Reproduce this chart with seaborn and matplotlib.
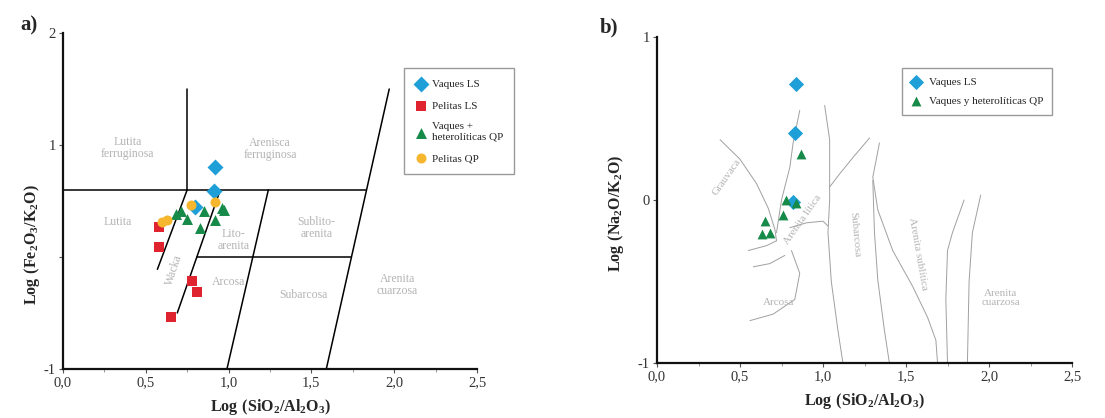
import numpy as np
import pandas as pd
import matplotlib
matplotlib.use("Agg")
import matplotlib.pyplot as plt
import seaborn as sns

# =====================================================
# Data - panel a (Herron diagram)
# =====================================================
vaques_ls_a_x = [0.92, 0.91, 0.80]
vaques_ls_a_y = [0.80, 0.59, 0.45]
pelitas_ls_x = [0.58, 0.58, 0.78, 0.81, 0.65]
pelitas_ls_y = [0.27, 0.09, -0.21, -0.31, -0.54]
vaques_qp_a_x = [0.68, 0.71, 0.75, 0.85, 0.83, 0.92, 0.96, 0.97]
vaques_qp_a_y = [0.38, 0.41, 0.34, 0.41, 0.26, 0.33, 0.44, 0.42]
pelitas_qp_x = [0.77, 0.92, 0.63, 0.60]
pelitas_qp_y = [0.46, 0.49, 0.33, 0.31]

labels_a = ["Vaques LS", "Pelitas LS", "Vaques +\nheterolíticas QP", "Pelitas QP"]

# field boundaries (x list, y list)
bounds_a = [
    ([0.0, 1.83], [0.6, 0.6]),
    ([0.75, 0.75], [0.6, 1.5]),
    ([0.75, 0.57], [0.6, -0.11]),
    ([0.95, 0.69], [0.6, -0.5]),
    ([1.24, 0.99], [0.6, -1.0]),
    ([0.81, 1.74], [0.0, 0.0]),
    ([1.59, 1.97], [-1.0, 1.5]),
]
fields_a = [
    ("Lutita\nferruginosa", 0.39, 0.97, 0),
    ("Arenisca\nferruginosa", 1.25, 0.96, 0),
    ("Lutita", 0.33, 0.31, 0),
    ("Lito-\narenita", 1.03, 0.15, 0),
    ("Sublito-\narenita", 1.53, 0.26, 0),
    ("Arcosa", 1.00, -0.22, 0),
    ("Subarcosa", 1.45, -0.34, 0),
    ("Arenita\ncuarzosa", 2.02, -0.25, 0),
    ("Wacka", 0.67, -0.12, 72),
]

# =====================================================
# Data - panel b (Pettijohn diagram)
# =====================================================
vaques_ls_b_x = [0.84, 0.83, 0.82]
vaques_ls_b_y = [0.71, 0.41, -0.01]
vaques_qp_b_x = [0.87, 0.78, 0.84, 0.76, 0.65, 0.63, 0.68]
vaques_qp_b_y = [0.28, 0.00, -0.02, -0.09, -0.13, -0.21, -0.20]

labels_b = ["Vaques LS", "Vaques y heterolíticas QP"]

curves_b = [
    ([0.38, 0.50, 0.60, 0.67, 0.71, 0.72], [0.37, 0.25, 0.10, -0.05, -0.18, -0.25]),
    ([0.86, 0.82, 0.80, 0.77, 0.75, 0.72], [0.55, 0.35, 0.20, 0.08, 0.0, -0.20]),
    ([0.72, 0.66, 0.55], [-0.25, -0.28, -0.31]),
    ([1.28, 1.18, 1.10, 1.04], [0.38, 0.26, 0.16, 0.08]),
    ([0.80, 0.90, 1.00, 1.03], [-0.17, -0.14, -0.13, -0.16]),
    ([1.01, 1.04, 1.04, 1.03, 1.05, 1.09, 1.12], [0.58, 0.37, 0.0, -0.2, -0.5, -0.8, -1.0]),
    ([0.81, 0.86, 0.83, 0.70, 0.56], [-0.31, -0.45, -0.61, -0.70, -0.74]),
    ([0.58, 0.68, 0.77], [-0.41, -0.39, -0.34]),
    ([1.34, 1.30, 1.33, 1.42, 1.54, 1.63, 1.68, 1.69], [0.35, 0.14, -0.06, -0.31, -0.53, -0.72, -0.86, -1.0]),
    ([1.30, 1.31, 1.33, 1.37, 1.40], [0.12, -0.2, -0.49, -0.8, -1.0]),
    ([1.85, 1.78, 1.75, 1.74, 1.75], [0.0, -0.2, -0.31, -0.61, -1.0]),
    ([1.95, 1.90, 1.88, 1.87], [0.03, -0.2, -0.5, -1.0]),
]
fields_b = [
    ("Grauvaca", 0.42, 0.14, 55),
    ("Arenita lítica", 0.88, -0.12, 55),
    ("Arcosa", 0.73, -0.63, 0),
    ("Subarcosa", 1.19, -0.21, -85),
    ("Arenita sublítica", 1.57, -0.33, -80),
    ("Arenita\ncuarzosa", 2.07, -0.60, 0),
]

xticks = [0.0, 0.5, 1.0, 1.5, 2.0, 2.5]
xticklabels = ["0,0", "0,5", "1,0", "1,5", "2,0", "2,5"]

# =====================================================
# Tables
# =====================================================
df_a = pd.concat([
    pd.DataFrame({"x": vaques_ls_a_x, "y": vaques_ls_a_y, "grupo": labels_a[0]}),
    pd.DataFrame({"x": pelitas_ls_x, "y": pelitas_ls_y, "grupo": labels_a[1]}),
    pd.DataFrame({"x": vaques_qp_a_x, "y": vaques_qp_a_y, "grupo": labels_a[2]}),
    pd.DataFrame({"x": pelitas_qp_x, "y": pelitas_qp_y, "grupo": labels_a[3]}),
], ignore_index=True)
df_b = pd.concat([
    pd.DataFrame({"x": vaques_ls_b_x, "y": vaques_ls_b_y, "grupo": labels_b[0]}),
    pd.DataFrame({"x": vaques_qp_b_x, "y": vaques_qp_b_y, "grupo": labels_b[1]}),
], ignore_index=True)

BLUE, RED, GREEN, ORANGE = "#1e9fd7", "#e0242f", "#168a48", "#f6b62e"
pal_a = dict(zip(labels_a, [BLUE, RED, GREEN, ORANGE]))
mk_a = dict(zip(labels_a, ["D", "s", "^", "o"]))
sz_a = dict(zip(labels_a, [66, 42, 62, 52]))
pal_b = dict(zip(labels_b, [BLUE, GREEN]))
mk_b = dict(zip(labels_b, ["D", "^"]))
sz_b = dict(zip(labels_b, [60, 50]))

# =====================================================
# Style
# =====================================================
sns.set_theme(style="ticks")
plt.rcParams["font.family"] = ["Liberation Serif", "DejaVu Serif"]
plt.rcParams["mathtext.fontset"] = "custom"
plt.rcParams["mathtext.rm"] = "Liberation Serif"
plt.rcParams["mathtext.bf"] = "Liberation Serif:bold"
FIELD = "#b4b4b4"
CURVE = "#a0a0a0"

fig = plt.figure(figsize=(11.05, 4.18), dpi=100)
ax_a = fig.add_axes([63 / 1105, 1 - 369 / 418, 414 / 1105, 336 / 418])
ax_b = fig.add_axes([657 / 1105, 1 - 363 / 418, 415 / 1105, 326 / 418])


def style_axes(ax, yticks, yticklabels):
    ax.set_xlim(0, 2.5)
    ax.set_xticks(xticks)
    ax.set_xticklabels(xticklabels, fontsize=10.5, color="#333333")
    ax.set_xticks(np.arange(0, 2.51, 0.25), minor=True)
    ax.set_yticks(yticks)
    ax.set_yticklabels(yticklabels, fontsize=10.5, color="#333333")
    ax.tick_params(axis="both", which="major", length=3, width=0.8, color="#555555", pad=2)
    ax.tick_params(axis="both", which="minor", length=2, width=0.6, color="#888888")
    sns.despine(ax=ax)
    for s in ["left", "bottom"]:
        ax.spines[s].set_linewidth(1.6)
        ax.spines[s].set_color("#111111")
    ax.set_facecolor("white")


# =====================================================
# Panel a
# =====================================================
ax_a.set_ylim(-1, 2)
for bx, by in bounds_a:
    ax_a.plot(bx, by, color="black", lw=1.1, zorder=1)
for txt, tx, ty, rot in fields_a:
    ax_a.text(tx, ty, txt, ha="center", va="center", fontsize=8.5, color=FIELD,
              rotation=rot, linespacing=1.0, zorder=1)

for g in labels_a:
    sns.scatterplot(data=df_a[df_a["grupo"] == g], x="x", y="y", ax=ax_a,
                    color=pal_a[g], marker=mk_a[g], s=sz_a[g], linewidth=0,
                    label=g, zorder=3)

style_axes(ax_a, [-1, 0, 1, 2], ["-1", "", "1", "2"])
ax_a.set_xlabel(r"$\mathbf{Log\ (SiO_2/Al_2O_3)}$", fontsize=11.5)
ax_a.set_ylabel(r"$\mathbf{Log\ (Fe_2O_3/K_2O)}$", fontsize=11.5)
ax_a.xaxis.set_label_coords(0.5, -0.082)
ax_a.yaxis.set_label_coords(-0.05, 0.37)
ax_a.legend(loc="upper left", bbox_to_anchor=(0.824, 0.895), fontsize=8,
            frameon=True, fancybox=False, edgecolor="#9a9a9a", framealpha=1,
            labelspacing=1.05, borderpad=1.0, handletextpad=0.5, handlelength=1.0,
            borderaxespad=0)

# =====================================================
# Panel b
# =====================================================
ax_b.set_ylim(-1, 1)
for cx, cy in curves_b:
    ax_b.plot(cx, cy, color=CURVE, lw=0.7, zorder=1)
for txt, tx, ty, rot in fields_b:
    ax_b.text(tx, ty, txt, ha="center", va="center", fontsize=8, color=FIELD,
              rotation=rot, linespacing=1.0, zorder=1)

for g in labels_b:
    sns.scatterplot(data=df_b[df_b["grupo"] == g], x="x", y="y", ax=ax_b,
                    color=pal_b[g], marker=mk_b[g], s=sz_b[g], linewidth=0,
                    label=g, zorder=3)

style_axes(ax_b, [-1, 0, 1], ["-1", "0", "1"])
ax_b.set_xlabel(r"$\mathbf{Log\ (SiO_2/Al_2O_3)}$", fontsize=11.5)
ax_b.set_ylabel(r"$\mathbf{Log\ (Na_2O/K_2O)}$", fontsize=11.5)
ax_b.xaxis.set_label_coords(0.5, -0.085)
ax_b.yaxis.set_label_coords(-0.075, 0.46)
ax_b.legend(loc="upper left", bbox_to_anchor=(0.59, 0.905), fontsize=8,
            frameon=True, fancybox=False, edgecolor="#9a9a9a", framealpha=1,
            labelspacing=0.9, borderpad=0.8, handletextpad=0.6, handlelength=1.0,
            borderaxespad=0)

fig.text(20 / 1105, 1 - 25 / 418, "a)", fontsize=15, fontweight="bold", va="center")
fig.text(600 / 1105, 1 - 27 / 418, "b)", fontsize=15, fontweight="bold", va="center")

fig.savefig("out.png", dpi=100, facecolor="white")
